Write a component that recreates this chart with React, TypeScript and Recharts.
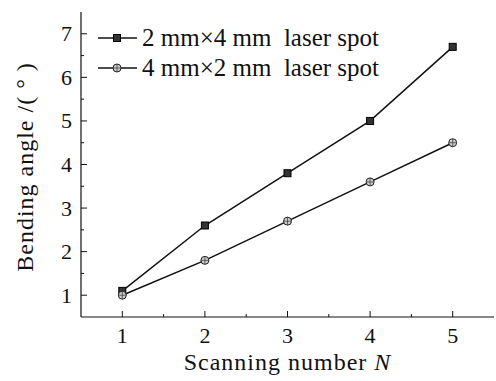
import React from "react";
import { LineChart, Line, XAxis, YAxis } from "recharts";

const scanNumbers = [1, 2, 3, 4, 5];
const spot2x4 = [1.1, 2.6, 3.8, 5.0, 6.7];
const spot4x2 = [1.0, 1.8, 2.7, 3.6, 4.5];
const seriesNames = ["2 mm\u00d74 mm  laser spot", "4 mm\u00d72 mm  laser spot"];
const xTicks = [0.5, 1, 1.5, 2, 2.5, 3, 3.5, 4, 4.5, 5, 5.5];
const yTicks = [0.5, 1, 1.5, 2, 2.5, 3, 3.5, 4, 4.5, 5, 5.5, 6, 6.5, 7, 7.5];

const data = scanNumbers.map((n, i) => ({ n, a: spot2x4[i], b: spot4x2[i] }));

const FONT = "Liberation Serif";
const INK = "#111";

const SquareDot = (props: any) => {
  const { cx, cy } = props;
  if (cx == null || cy == null) return null;
  return <rect x={cx - 3.5} y={cy - 3.5} width={7} height={7} fill="#333" stroke="#000" strokeWidth={1} />;
};

const HatchDot = (props: any) => {
  const { cx, cy } = props;
  if (cx == null || cy == null) return null;
  return (
    <g>
      <circle cx={cx} cy={cy} r={4} fill="#ccc" stroke="#222" strokeWidth={1} />
      <line x1={cx - 4} y1={cy} x2={cx + 4} y2={cy} stroke="#444" strokeWidth={0.8} />
      <line x1={cx} y1={cy - 4} x2={cx} y2={cy + 4} stroke="#444" strokeWidth={0.8} />
    </g>
  );
};

const XTick = (props: any) => {
  const { x, y, payload } = props;
  const v = payload.value;
  const major = Number.isInteger(v);
  if (v <= 0.5 || v >= 5.5) return null;
  return (
    <g>
      <line x1={x} y1={y} x2={x} y2={y - (major ? 6 : 3)} stroke={INK} strokeWidth={1} />
      {major && (
        <text x={x} y={y + 26} textAnchor="middle" style={{ fontFamily: FONT }} fontSize={22} fill={INK}>
          {v}
        </text>
      )}
    </g>
  );
};

const YTick = (props: any) => {
  const { x, y, payload } = props;
  const v = payload.value;
  const major = Number.isInteger(v);
  if (v <= 0.5 || v >= 7.5) return null;
  return (
    <g>
      <line x1={x} y1={y} x2={x + (major ? 6 : 3)} y2={y} stroke={INK} strokeWidth={1} />
      {major && (
        <text x={x - 9} y={y + 7.5} textAnchor="end" style={{ fontFamily: FONT }} fontSize={22} fill={INK}>
          {v}
        </text>
      )}
    </g>
  );
};

const LegendOverlay = () => (
  <svg
    width={320}
    height={80}
    style={{ position: "absolute", left: 95, top: 14, display: "block", overflow: "visible" }}
  >
    {seriesNames.map((name, i) => {
      const ly = 24 + i * 30;
      return (
        <g key={name}>
          <line x1={3} y1={ly} x2={42} y2={ly} stroke={INK} strokeWidth={1.5} />
          {i === 0 ? <SquareDot cx={22} cy={ly} /> : <HatchDot cx={22} cy={ly} />}
          <text x={47} y={ly + 8} style={{ fontFamily: FONT, whiteSpace: "pre" }} fontSize={25} fill={INK}>
            {name}
          </text>
        </g>
      );
    })}
  </svg>
);

export default function App() {
  return (
    <div style={{ position: "absolute", left: 0, top: 0, width: 496, height: 381, background: "#fff" }}>
      <LineChart width={496} height={381} data={data} margin={{ top: 12, right: 2, bottom: 0, left: 0 }}>
        <XAxis
          dataKey="n"
          type="number"
          domain={[0.5, 5.5]}
          ticks={xTicks}
          interval={0}
          height={64}
          tickSize={0}
          tickMargin={0}
          tickLine={false}
          axisLine={{ stroke: INK, strokeWidth: 1.2 }}
          tick={<XTick />}
          label={{
            value: "Scanning number",
            position: "insideBottom",
            offset: 0,
            content: (p: any) => {
              const vb = p.viewBox;
              return (
                <text
                  x={vb.x + vb.width / 2}
                  y={370}
                  textAnchor="middle"
                  style={{ fontFamily: FONT }}
                  fontSize={24}
                  fill={INK}
                  letterSpacing={1}
                >
                  Scanning number <tspan fontStyle="italic">N</tspan>
                </text>
              );
            },
          }}
        />
        <XAxis
          xAxisId="top"
          orientation="top"
          dataKey="n"
          type="number"
          domain={[0.5, 5.5]}
          height={0}
          tick={false}
          tickLine={false}
          axisLine={{ stroke: INK, strokeWidth: 1.2 }}
        />
        <YAxis
          type="number"
          domain={[0.5, 7.5]}
          ticks={yTicks}
          interval={0}
          width={81}
          tickSize={0}
          tickMargin={0}
          tickLine={false}
          axisLine={{ stroke: INK, strokeWidth: 1.2 }}
          tick={<YTick />}
          label={{
            value: "Bending angle",
            content: () => (
              <text
                x={0}
                y={0}
                transform="translate(33, 167) rotate(-90)"
                textAnchor="middle"
                style={{ fontFamily: FONT, whiteSpace: "pre" }}
                fontSize={24}
                fill={INK}
                letterSpacing={1}
              >
                {"Bending angle /( \u00b0 )"}
              </text>
            ),
          }}
        />
        <YAxis
          yAxisId="right"
          orientation="right"
          type="number"
          domain={[0.5, 7.5]}
          width={0}
          tick={false}
          tickLine={false}
          axisLine={{ stroke: INK, strokeWidth: 1.2 }}
        />
        <Line
          dataKey="a"
          stroke={INK}
          strokeWidth={1.5}
          dot={<SquareDot />}
          activeDot={false}
          isAnimationActive={false}
        />
        <Line
          dataKey="b"
          stroke={INK}
          strokeWidth={1.5}
          dot={<HatchDot />}
          activeDot={false}
          isAnimationActive={false}
        />
      </LineChart>
      <LegendOverlay />
    </div>
  );
}
